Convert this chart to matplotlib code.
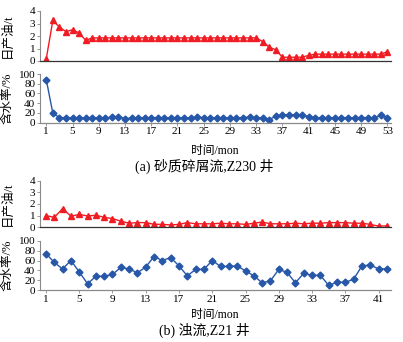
import matplotlib
matplotlib.use('Agg')
import matplotlib.pyplot as plt

plt.rcParams['font.family'] = ['Liberation Serif', 'Noto Sans CJK SC']
plt.rcParams['axes.unicode_minus'] = False

# (a) Z230 well, 53 months
months_a = list(range(1, 54))
oil_a = [0.2, 3.25, 2.7, 2.35, 2.5, 2.25, 1.65, 1.85, 1.85, 1.85,
         1.85, 1.85, 1.85, 1.85, 1.85, 1.85, 1.85, 1.85, 1.85, 1.85,
         1.85, 1.85, 1.85, 1.85, 1.85, 1.85, 1.85, 1.85, 1.85, 1.85,
         1.85, 1.85, 1.85, 1.55, 1.1, 0.9, 0.3, 0.3, 0.3, 0.3,
         0.45, 0.55, 0.55, 0.55, 0.55, 0.55, 0.55, 0.55, 0.55, 0.55,
         0.55, 0.55, 0.75]
water_a = [88, 19, 10, 10, 10, 10, 9, 10, 10, 9,
           11, 12, 8, 9, 10, 10, 10, 10, 10, 10,
           9, 10, 9, 11, 10, 10, 10, 10, 9, 10,
           10, 11, 10, 10, 6, 13, 16, 16, 16, 16,
           12, 10, 10, 10, 10, 10, 10, 10, 10, 10,
           10, 15, 10]
ticks_a = [1, 5, 9, 13, 17, 21, 25, 29, 33, 37, 41, 45, 49, 53]

# (b) Z21 well, 42 months
months_b = list(range(1, 43))
oil_b = [1.0, 0.85, 1.6, 0.95, 1.1, 0.97, 1.03, 0.85, 0.75, 0.52,
         0.35, 0.4, 0.4, 0.26, 0.25, 0.2, 0.25, 0.4, 0.3, 0.3,
         0.3, 0.35, 0.3, 0.3, 0.25, 0.35, 0.45, 0.3, 0.3, 0.3,
         0.35, 0.3, 0.35, 0.35, 0.4, 0.4, 0.4, 0.35, 0.35, 0.25,
         0.1, 0.12]
water_b = [74, 56, 43, 60, 37, 13, 28, 28, 32, 46,
           43, 35, 47, 68, 60, 66, 49, 29, 42, 42,
           60, 48, 48, 49, 39, 29, 15, 19, 42, 36,
           15, 34, 30, 30, 10, 16, 16, 22, 49, 51,
           43, 43]
ticks_b = [1, 5, 9, 13, 17, 21, 25, 29, 33, 37, 41]

RED = '#f01c24'
BLUE = '#2757a8'
W, H = 403, 342


def px_axes(fig, left, top, right, bottom):
    return fig.add_axes([left / W, 1 - bottom / H, (right - left) / W, (bottom - top) / H])


def style(ax, bottom_color):
    for s in ['top', 'right']:
        ax.spines[s].set_visible(False)
    ax.spines['left'].set_color('#8a8a8a')
    ax.spines['bottom'].set_color(bottom_color)
    ax.spines['left'].set_linewidth(0.8)
    ax.spines['bottom'].set_linewidth(0.9)
    ax.tick_params(axis='both', labelsize=8, length=2.5, width=0.6,
                   color='#8a8a8a', pad=1)


def panel(fig, months, oil, water, ticks, xlim, oil_box, water_box):
    ax1 = px_axes(fig, *oil_box)
    ax1.plot(months, oil, color=RED, marker='^', markersize=5, linewidth=1)
    ax1.set_xlim(*xlim)
    ax1.set_ylim(0, 4)
    ax1.set_yticks([0, 1, 2, 3, 4])
    ax1.set_xticks([])
    style(ax1, '#333333')
    ax1.set_ylabel('日产油/t', fontsize=9, labelpad=0)
    ax1.yaxis.set_label_coords(-0.075, 0.5)

    ax2 = px_axes(fig, *water_box)
    ax2.plot(months, water, color=BLUE, marker='D', markersize=3.5, linewidth=1)
    ax2.set_xlim(*xlim)
    ax2.set_ylim(0, 100)
    ax2.set_yticks([0, 20, 40, 60, 80, 100])
    ax2.set_xticks(ticks)
    style(ax2, '#8a8a8a')
    ax2.set_ylabel('含水率/%', fontsize=9, labelpad=0)
    ax2.yaxis.set_label_coords(-0.075, 0.5)
    return ax1, ax2


fig = plt.figure(figsize=(W / 100, H / 100), dpi=100)

panel(fig, months_a, oil_a, water_a, ticks_a, (0.04, 53.56),
      (40, 11, 391, 61), (40, 74, 391, 122.5))
fig.text(215 / W, 1 - 151 / H, '时间/mon', fontsize=8.5, ha='center', va='center')
fig.text(204 / W, 1 - 166.5 / H, '(a) 砂质碎屑流,Z230 井', fontsize=10,
         ha='center', va='center')

panel(fig, months_b, oil_b, water_b, ticks_b, (0.28, 42.5),
      (40, 180.5, 391, 227.3), (40, 240.7, 391, 290.2))
fig.text(215 / W, 1 - 315 / H, '时间/mon', fontsize=8.5, ha='center', va='center')
fig.text(204 / W, 1 - 330 / H, '(b) 浊流,Z21 井', fontsize=10,
         ha='center', va='center')

plt.savefig('out.png', dpi=100)
plt.close()
